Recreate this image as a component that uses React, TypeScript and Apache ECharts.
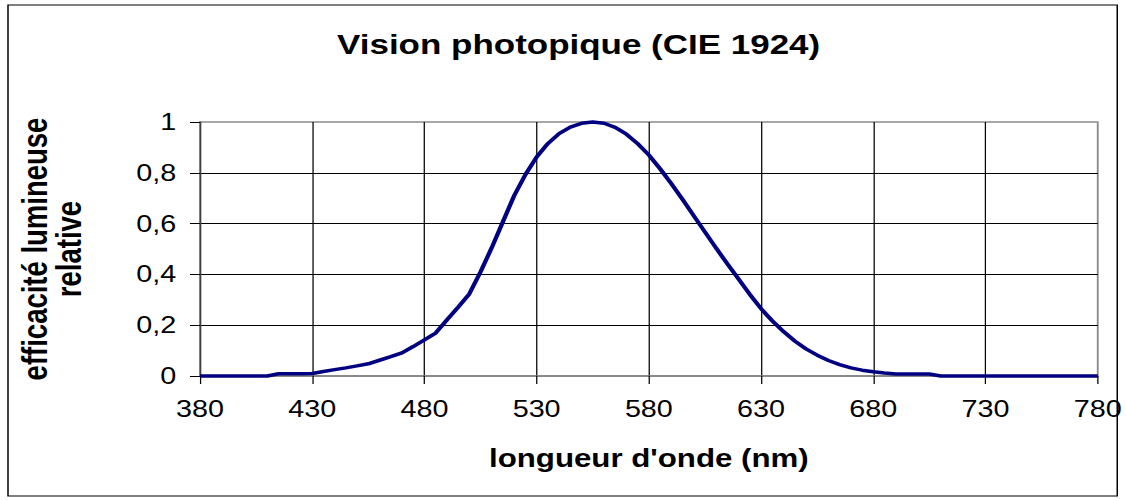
import React, { useEffect, useRef } from "react";
import * as echarts from "echarts";

const wavelengths = [
  380, 385, 390, 395, 400, 405, 410, 415, 420, 425,
  430, 435, 440, 445, 450, 455, 460, 465, 470, 475,
  480, 485, 490, 495, 500, 505, 510, 515, 520, 525,
  530, 535, 540, 545, 550, 555, 560, 565, 570, 575,
  580, 585, 590, 595, 600, 605, 610, 615, 620, 625,
  630, 635, 640, 645, 650, 655, 660, 665, 670, 675,
  680, 685, 690, 695, 700, 705, 710, 715, 720, 725,
  730, 735, 740, 745, 750, 755, 760, 765, 770, 775,
  780,
];

const efficacite = [
  0, 0, 0, 0, 0, 0, 0, 0.009, 0.009, 0.009,
  0.01, 0.018, 0.025, 0.032, 0.04, 0.048, 0.062, 0.076, 0.091, 0.116,
  0.142, 0.169, 0.22, 0.271, 0.323, 0.41, 0.505, 0.608, 0.71, 0.793,
  0.862, 0.915, 0.954, 0.98, 0.995, 1.0, 0.995, 0.979, 0.952, 0.915,
  0.87, 0.816, 0.757, 0.695, 0.631, 0.567, 0.503, 0.441, 0.381, 0.321,
  0.265, 0.217, 0.175, 0.138, 0.107, 0.082, 0.061, 0.045, 0.032, 0.023,
  0.017, 0.012, 0.008, 0.008, 0.008, 0.008, 0, 0, 0, 0,
  0, 0, 0, 0, 0, 0, 0, 0, 0, 0,
  0,
];

const titleText = "Vision photopique (CIE 1924)";
const xName = "longueur d'onde (nm)";
const yName = "efficacité lumineuse\nrelative";

const W = 901;
const H = 500;
const SX = 1126 / W;
const FONT = "'Liberation Sans', Arial, sans-serif";

export default function App() {
  const ref = useRef<HTMLDivElement>(null);

  useEffect(() => {
    if (!ref.current) return;
    const chart = echarts.init(ref.current, null, { renderer: "svg" });
    const data = wavelengths.map((w, i) => [w, efficacite[i]]);
    const plotLeft = 160;
    const plotRight = 878.4;
    const plotTop = 122;
    const plotBottom = 376;
    chart.setOption({
      animation: false,
      backgroundColor: "#ffffff",
      textStyle: { fontFamily: FONT },
      grid: {
        left: plotLeft,
        right: W - plotRight,
        top: plotTop,
        bottom: H - plotBottom,
        show: true,
        borderColor: "#8c8c8c",
        borderWidth: 1.5,
        backgroundColor: "transparent",
      },
      graphic: [
        {
          type: "rect",
          shape: { x: 6.4, y: 5, width: 887.6, height: 491 },
          style: { fill: "none", stroke: "#000", lineWidth: 1.2 },
          silent: true,
        },
        {
          type: "text",
          x: 463,
          y: 44,
          style: {
            text: titleText,
            font: `bold 28px ${FONT}`,
            fill: "#000",
            align: "center",
            verticalAlign: "middle",
          },
          silent: true,
        },
      ],
      xAxis: {
        type: "value",
        min: 380,
        max: 780,
        interval: 50,
        name: xName,
        nameLocation: "middle",
        nameGap: 70,
        nameTextStyle: { fontFamily: FONT, fontSize: 25, fontWeight: "bold", color: "#000" },
        axisLine: { show: true, onZero: false, lineStyle: { color: "#808080", width: 1.5 } },
        axisTick: { show: true, length: 8, inside: false, lineStyle: { color: "#000", width: 1 } },
        axisLabel: { fontFamily: FONT, fontSize: 23, color: "#000", margin: 22 },
        splitLine: { show: true, showMinLine: false, showMaxLine: false, lineStyle: { color: "#000", width: 1 } },
      },
      yAxis: {
        type: "value",
        min: 0,
        max: 1,
        interval: 0.2,
        name: yName,
        nameLocation: "middle",
        nameRotate: 90,
        nameGap: 91,
        nameTextStyle: { fontFamily: FONT, fontSize: 27.5, fontWeight: "bold", color: "#000", lineHeight: 27 },
        axisLine: { show: true, lineStyle: { color: "#404040", width: 1.2 } },
        axisTick: { show: true, length: 8, inside: false, lineStyle: { color: "#000", width: 1 } },
        axisLabel: {
          fontFamily: FONT,
          fontSize: 23,
          color: "#000",
          margin: 19,
          formatter: (v: number) => String(v).replace(".", ","),
        },
        splitLine: { show: true, showMinLine: false, showMaxLine: false, lineStyle: { color: "#000", width: 1 } },
      },
      series: [
        {
          type: "line",
          data,
          showSymbol: false,
          clip: false,
          lineStyle: { color: "#000080", width: 3.5 },
          z: 5,
        },
      ],
    });
    return () => chart.dispose();
  }, []);

  return (
    <div
      style={{
        position: "fixed",
        left: 0,
        top: 0,
        width: W * SX,
        height: H,
        overflow: "hidden",
        background: "#fff",
      }}
    >
      <div
        ref={ref}
        style={{
          width: W,
          height: H,
          transform: `scaleX(${SX})`,
          transformOrigin: "0 0",
        }}
      />
    </div>
  );
}
